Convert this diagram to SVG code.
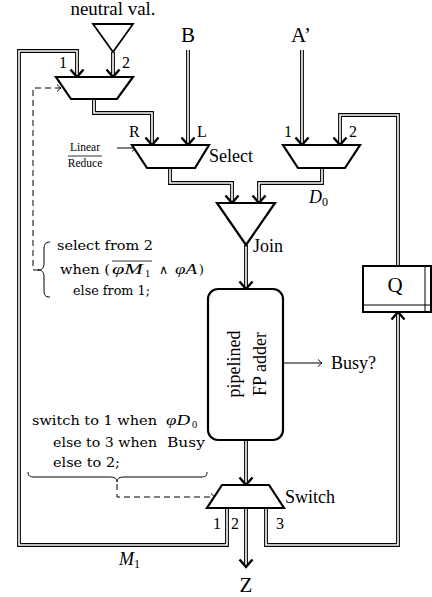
<svg xmlns="http://www.w3.org/2000/svg" width="432" height="597" viewBox="0 0 432 597">
<style>
.o{fill:none;stroke:#000;stroke-width:3.8;stroke-linejoin:miter}
.i{fill:none;stroke:#fff;stroke-width:1.6;stroke-linejoin:miter}
.ah{fill:none;stroke:#000;stroke-width:2.4;stroke-linejoin:miter}
.shp{fill:#fff;stroke:#000;stroke-width:2.2;stroke-linejoin:miter}
.thin{fill:none;stroke:#000;stroke-width:1}
.dash{fill:none;stroke:#000;stroke-width:1;stroke-dasharray:6 4}
text{font-family:"Liberation Serif","Times New Roman",serif;fill:#000}
.lbl{font-size:18px}
.big{font-size:21px}
.num{font-size:16px}
.sm{font-family:"DejaVu Serif","Liberation Serif",serif;font-size:12.5px}
.mi{font-family:"Liberation Serif","Times New Roman",serif;font-style:italic;font-size:15px}
.sub{font-family:"Liberation Serif","Times New Roman",serif;font-size:10.5px}
.it{font-style:italic}
</style>
<defs>
<path id="ah" d="M-6.5,-7.5 L0,0 L6.5,-7.5"/>
<marker id="ta" markerUnits="userSpaceOnUse" markerWidth="10" markerHeight="10" refX="5" refY="5" orient="auto" overflow="visible">
<path d="M1,1.5 Q3.5,4 5,5 Q3.5,6 1,8.5" fill="none" stroke="#000" stroke-width="1"/>
</marker>
</defs>

<g id="connectors">
<path class="o" d="M113,52 V75"/>
<path class="o" d="M227,508 V545 H19 V51 H77 V75"/>
<path class="o" d="M94,99 V113 H152 V143"/>
<path class="o" d="M188,50 V143"/>
<path class="o" d="M302,50 V143"/>
<path class="o" d="M398,266 V115 H340 V143"/>
<path class="o" d="M322,168 V183 H259 V201"/>
<path class="o" d="M170,168 V183 H232 V201"/>
<path class="o" d="M246,245 V287"/>
<path class="o" d="M246,440 V483"/>
<path class="o" d="M246,508 V565"/>
<path class="o" d="M266,508 V545 H398 V314"/>
<path class="i" d="M113,52 V76"/>
<path class="i" d="M227,507 V545 H19 V51 H77 V76"/>
<path class="i" d="M94,98 V113 H152 V144"/>
<path class="i" d="M188,49 V144"/>
<path class="i" d="M302,49 V144"/>
<path class="i" d="M398,267 V115 H340 V144"/>
<path class="i" d="M322,167 V183 H259 V202"/>
<path class="i" d="M170,167 V183 H232 V202"/>
<path class="i" d="M246,244 V288"/>
<path class="i" d="M246,441 V484"/>
<path class="i" d="M246,507 V566"/>
<path class="i" d="M266,507 V545 H398 V313"/>
<use href="#ah" class="ah" x="77" y="77"/>
<use href="#ah" class="ah" x="113" y="77"/>
<use href="#ah" class="ah" x="152" y="145"/>
<use href="#ah" class="ah" x="188" y="145"/>
<use href="#ah" class="ah" x="302" y="145"/>
<use href="#ah" class="ah" x="340" y="145"/>
<use href="#ah" class="ah" x="232" y="203"/>
<use href="#ah" class="ah" x="259" y="203"/>
<use href="#ah" class="ah" x="246" y="289"/>
<use href="#ah" class="ah" x="246" y="485"/>
<use href="#ah" class="ah" x="246" y="567"/>
<use href="#ah" class="ah" transform="translate(398,312) rotate(180)"/>
<path class="thin" d="M117,148 H136" marker-end="url(#ta)"/>
<path class="thin" d="M283,363 H322" marker-end="url(#ta)"/>
<path class="dash" d="M39,270 H33 V88 H61" marker-end="url(#ta)"/>
<path class="dash" d="M117,484 V497 H215" marker-end="url(#ta)"/>
</g>

<g id="neutral">
<polygon points="93,24 133,24 113,52" fill="#fff" stroke="#000" stroke-width="1.8"/>
<text class="lbl" x="113" y="15" text-anchor="middle" textLength="85" lengthAdjust="spacingAndGlyphs">neutral val.</text>
</g>

<g id="inputB"><text class="big" x="188" y="42" text-anchor="middle">B</text></g>
<g id="inputA"><text class="big" x="301" y="42" text-anchor="middle">A’</text></g>

<g id="muxTop">
<polygon class="shp" points="56,77 133,77 117,99 71,99"/>
<text class="num" x="59" y="68">1</text>
<text class="num" x="122" y="68">2</text>
</g>

<g id="select">
<polygon class="shp" points="132,145 209,145 195,168 147,168"/>
<text class="num" x="129" y="137">R</text>
<text class="num" x="197" y="137">L</text>
<text class="lbl" x="209" y="162">Select</text>
<text x="85" y="151" font-size="11.5" text-anchor="middle">Linear</text>
<line x1="68" y1="156" x2="102" y2="156" stroke="#000" stroke-width="0.8"/>
<text x="85" y="167" font-size="11.5" text-anchor="middle">Reduce</text>
</g>

<g id="muxA">
<polygon class="shp" points="283,145 360,145 345,168 298,168"/>
<text class="num" x="284" y="137">1</text>
<text class="num" x="349" y="137">2</text>
<text class="lbl it" x="309" y="203">D<tspan font-size="12" dy="3" font-style="normal">0</tspan></text>
</g>

<g id="join">
<polygon class="shp" points="217,203 275,203 246,245"/>
<text class="lbl" x="253" y="252">Join</text>
</g>

<g id="adder">
<rect class="shp" x="208" y="289" width="75" height="151" rx="10" ry="10"/>
<text class="lbl" transform="translate(240,364) rotate(-90)" text-anchor="middle">pipelined</text>
<text class="lbl" transform="translate(266,364) rotate(-90)" text-anchor="middle">FP adder</text>
<text class="lbl" x="331" y="369">Busy?</text>
</g>

<g id="switch">
<polygon class="shp" points="222,485 269,485 284,508 207,508"/>
<text class="lbl" x="285" y="503">Switch</text>
<text class="num" x="213" y="529">1</text>
<text class="num" x="231" y="529">2</text>
<text class="num" x="276" y="529">3</text>
<text class="big" x="246" y="592" text-anchor="middle">Z</text>
<text class="lbl it" x="119" y="565">M<tspan font-size="12" dy="3" font-style="normal">1</tspan></text>
</g>

<g id="queue">
<rect x="363" y="266" width="68" height="46" fill="#fff" stroke="#000" stroke-width="2"/>
<line x1="363" y1="305" x2="431" y2="305" stroke="#000" stroke-width="1"/>
<line x1="425" y1="266" x2="425" y2="312" stroke="#000" stroke-width="1"/>
<text class="big" x="395" y="292" text-anchor="middle">Q</text>
</g>

<g id="selectRule">
<path class="thin" d="M50,242 C45,242 44,245 44,250 L44,263 C44,268 42,270 38,270 C42,270 44,272 44,277 L44,290 C44,295 45,297 50,297"/>
<text class="sm" x="57" y="250" textLength="96" lengthAdjust="spacingAndGlyphs">select from 2</text>
<text class="sm" x="60" y="274" textLength="50" lengthAdjust="spacingAndGlyphs">when (</text>
<text class="mi" x="112" y="274" textLength="31" lengthAdjust="spacingAndGlyphs">φM</text>
<text class="sub" x="145" y="277">1</text>
<line x1="112" y1="261" x2="152" y2="261" stroke="#000" stroke-width="0.8"/>
<text class="sm" x="159" y="274">∧</text>
<text class="mi" x="175" y="274" textLength="22" lengthAdjust="spacingAndGlyphs">φA</text>
<text class="sm" x="199" y="274">)</text>
<text class="sm" x="73" y="295" textLength="77" lengthAdjust="spacingAndGlyphs">else from 1;</text>
</g>

<g id="switchRule">
<text class="sm" x="32" y="425" textLength="125" lengthAdjust="spacingAndGlyphs">switch to 1 when</text>
<text class="mi" x="166" y="425" textLength="24" lengthAdjust="spacingAndGlyphs">φD</text>
<text class="sub" x="192" y="428">0</text>
<text class="sm" x="53" y="447" textLength="104" lengthAdjust="spacingAndGlyphs">else to 3 when</text>
<text class="sm" x="167" y="447" textLength="38" lengthAdjust="spacingAndGlyphs">Busy</text>
<text class="sm" x="53" y="467" textLength="67" lengthAdjust="spacingAndGlyphs">else to 2;</text>
<path class="thin" d="M28,472 C28,476 30,477 34,477 L110,477 C114,477 117,478 117,482 C117,478 120,477 124,477 L201,477 C205,477 207,476 207,472"/>
</g>
</svg>
